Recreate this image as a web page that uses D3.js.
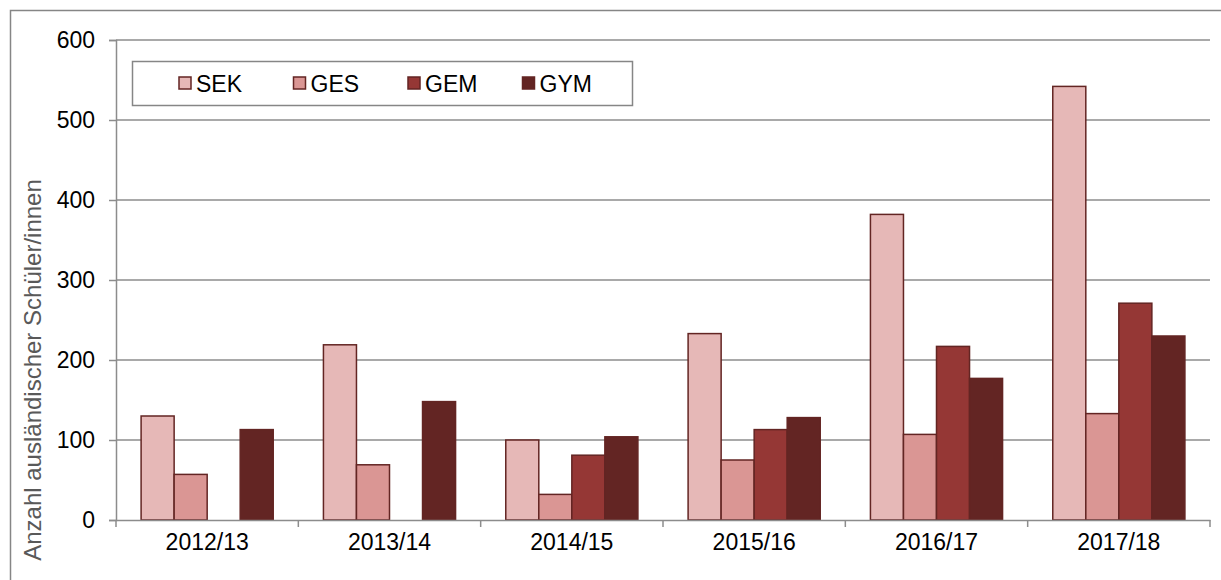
<!DOCTYPE html>
<html>
<head>
<meta charset="utf-8">
<script src="https://cdn.jsdelivr.net/npm/d3@7"></script>
<style>
  body { margin: 0; background: #fff; }
  svg text { font-family: "Liberation Sans", Arial, sans-serif; }
</style>
</head>
<body>
<svg id="chart"></svg>
<script>
// Data
const years = ["2012/13", "2013/14", "2014/15", "2015/16", "2016/17", "2017/18"];
const seriesNames = ["SEK", "GES", "GEM", "GYM"];
const sek = [130, 219, 100, 233, 382, 542];
const ges = [57, 69, 32, 75, 107, 133];
const gem = [0, 0, 81, 113, 217, 271];
const gym = [113, 148, 104, 128, 177, 230];
const yTicks = [0, 100, 200, 300, 400, 500, 600];

const colors = ["#e6b8b7", "#da9694", "#953735", "#632523"];
const values = [sek, ges, gem, gym];

const width = 1221, height = 580;
const margin = {top: 40, right: 11, bottom: 60, left: 116};

const svg = d3.select("#chart")
  .attr("width", width)
  .attr("height", height);

// outer frame (runs off the right and bottom edge, like the reference)
svg.append("rect")
  .attr("x", 10.5).attr("y", 10.5)
  .attr("width", width + 20).attr("height", height + 20)
  .attr("fill", "none")
  .attr("stroke", "#868686")
  .attr("stroke-width", 1.5);

const x = d3.scaleBand()
  .domain(years)
  .range([margin.left, width - margin.right])
  .paddingInner(0)
  .paddingOuter(0);

const xInner = d3.scaleBand()
  .domain(seriesNames)
  .range([0, x.bandwidth()])
  .paddingInner(0)
  .paddingOuter(0.76);

const y = d3.scaleLinear()
  .domain([0, 600])
  .range([height - margin.bottom, margin.top]);

// gridlines
svg.append("g")
  .selectAll("line")
  .data(yTicks.slice(1))
  .join("line")
  .attr("x1", margin.left)
  .attr("x2", width - margin.right)
  .attr("y1", d => y(d))
  .attr("y2", d => y(d))
  .attr("stroke", "#8c8c8c")
  .attr("stroke-width", 1.5);

// y axis
const yAxis = svg.append("g")
  .attr("transform", `translate(${margin.left},0)`)
  .call(d3.axisLeft(y).tickValues(yTicks).tickSize(7).tickPadding(14));
yAxis.attr("font-family", null);
yAxis.select(".domain").attr("stroke", "#8c8c8c").attr("stroke-width", 1.5);
yAxis.selectAll(".tick line").attr("stroke", "#8c8c8c").attr("stroke-width", 1.5);
yAxis.selectAll(".tick text").attr("fill", "#000").style("font-size", "23px");

// bars
years.forEach((yr, i) => {
  const g = svg.append("g").attr("transform", `translate(${x(yr)},0)`);
  seriesNames.forEach((s, j) => {
    const v = values[j][i];
    if (!v) return;
    g.append("rect")
      .attr("x", xInner(s))
      .attr("y", y(v))
      .attr("width", xInner.bandwidth())
      .attr("height", y(0) - y(v))
      .attr("fill", colors[j])
      .attr("stroke", "#632523")
      .attr("stroke-width", 1.5);
  });
});

// x axis
const xAxis = svg.append("g")
  .attr("transform", `translate(0,${y(0)})`)
  .call(d3.axisBottom(x).tickSize(0).tickPadding(14));
xAxis.attr("font-family", null);
xAxis.select(".domain").attr("stroke", "#8c8c8c").attr("stroke-width", 1.5);
xAxis.selectAll(".tick text").attr("fill", "#000").style("font-size", "23px");
// category separator ticks
xAxis.append("g")
  .selectAll("line")
  .data(years.concat(["end"]))
  .join("line")
  .attr("x1", (d, i) => margin.left + i * x.bandwidth())
  .attr("x2", (d, i) => margin.left + i * x.bandwidth())
  .attr("y1", 0)
  .attr("y2", 7)
  .attr("stroke", "#8c8c8c")
  .attr("stroke-width", 1.5);

// y label
svg.append("text")
  .attr("transform", `translate(41,370) rotate(-90)`)
  .attr("text-anchor", "middle")
  .attr("fill", "#595959")
  .style("font-size", "24px")
  .text("Anzahl ausländischer Schüler/innen");

// legend
const legend = svg.append("g");
legend.append("rect")
  .attr("x", 132.5).attr("y", 61.5)
  .attr("width", 500).attr("height", 44)
  .attr("fill", "#fff")
  .attr("stroke", "#868686")
  .attr("stroke-width", 1.5);

seriesNames.forEach((s, j) => {
  const lx = 179 + j * 114.5;
  legend.append("rect")
    .attr("x", lx).attr("y", 77)
    .attr("width", 12).attr("height", 12)
    .attr("fill", colors[j])
    .attr("stroke", "#632523")
    .attr("stroke-width", 1.5);
  legend.append("text")
    .attr("x", lx + 17)
    .attr("y", 92)
    .attr("fill", "#000")
    .style("font-size", "23px")
    .text(s);
});
</script>
</body>
</html>
